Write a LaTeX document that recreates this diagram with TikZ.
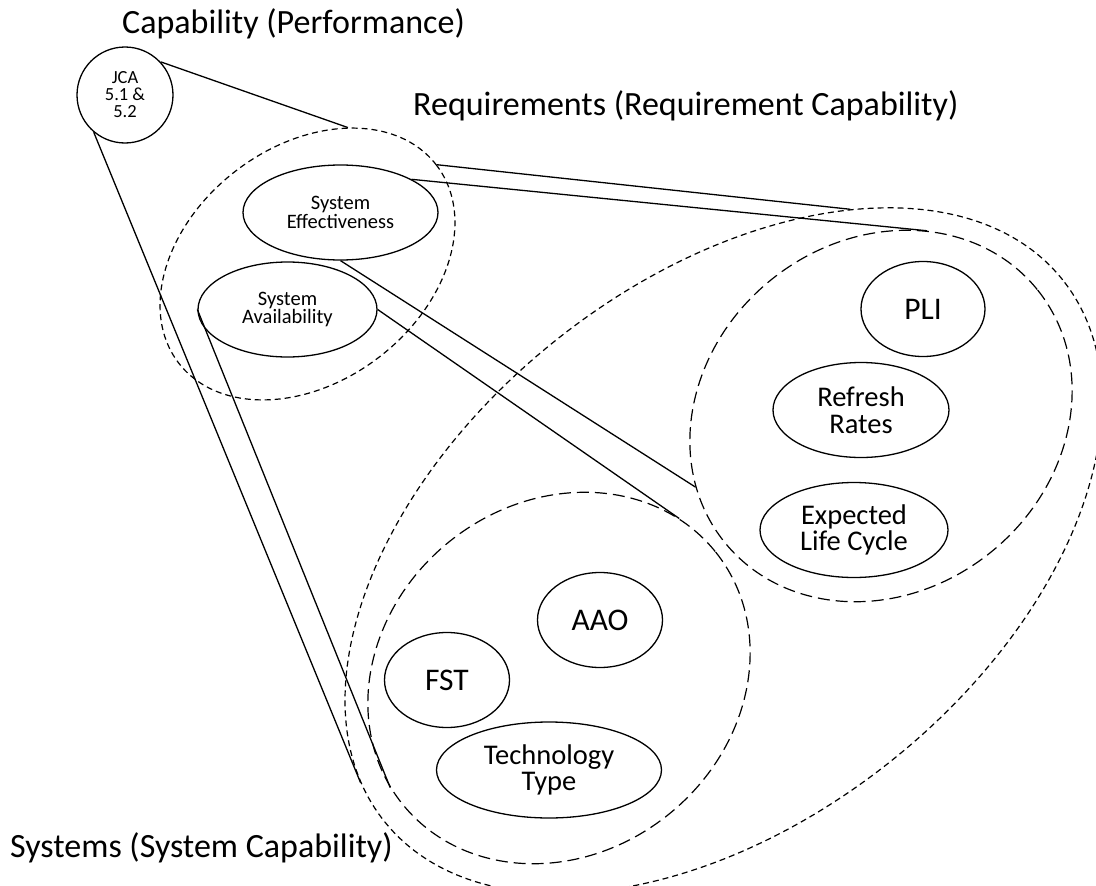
\documentclass[tikz,border=0pt]{standalone}
\usepackage{fontspec}
\setmainfont{Carlito}
\usetikzlibrary{shapes.geometric}
\begin{document}
\begin{tikzpicture}[x=1pt,y=-1pt,
  ell/.style={draw, ellipse, line width=1.3pt, inner sep=0pt, align=center},
  grp/.style={draw, ellipse, inner sep=0pt, line width=1.2pt},
  shortdsh/.style={dash pattern=on 6pt off 4pt},
  longdsh/.style={dash pattern=on 12pt off 6pt},
  conn/.style={line width=1.3pt},
  titletxt/.style={font=\fontsize{34}{40}\selectfont, inner sep=0pt},
  tiny/.style={font=\fontsize{18.5}{17}\selectfont},
  small/.style={font=\fontsize{20.5}{18.5}\selectfont},
  mid/.style={font=\fontsize{28.5}{26.5}\selectfont},
  big/.style={font=\fontsize{31.5}{32}\selectfont}
]
\fill[white] (0,0) rectangle (1096,886);
\useasboundingbox (0,0) rectangle (1096,886);

% group outlines
\node[grp, shortdsh, minimum width=868pt, minimum height=538pt, rotate=38.6] (outer) at (723.5,550.6) {};
\node[grp, shortdsh, minimum width=325pt, minimum height=235pt, rotate=37.5] (req) at (307.5,264) {};
\node[grp, longdsh, minimum width=402pt, minimum height=350pt, rotate=39] (reqin) at (881,416) {};
\node[grp, longdsh, minimum width=402pt, minimum height=350pt, rotate=39] (sysin) at (559,678) {};

% nodes
\node[ell, circle, minimum size=96pt, tiny] (jca) at (125,95) {JCA\\5.1 \&\\5.2};
\node[ell, small, minimum width=195pt, minimum height=95pt] (se) at (340.5,212.5) {System\\Effectiveness};
\node[ell, small, minimum width=179pt, minimum height=95pt] (sa) at (287.5,309.5) {System\\Availability};
\node[ell, big, minimum width=124pt, minimum height=95pt] (pli) at (923,309) {PLI};
\node[ell, mid, minimum width=176pt, minimum height=95pt] (rr) at (861,410) {Refresh\\Rates};
\node[ell, mid, minimum width=188pt, minimum height=95pt] (elc) at (854,530) {Expected\\Life Cycle};
\node[ell, big, minimum width=125pt, minimum height=95pt] (aao) at (600,620) {AAO};
\node[ell, big, minimum width=125pt, minimum height=95pt] (fst) at (447,680) {FST};
\node[ell, mid, minimum width=225pt, minimum height=96pt] (tt) at (549,770) {Technology\\Type};

% titles
\node[titletxt, anchor=base west] (t1) at (122,33) {Capability (Performance)};
\node[titletxt, anchor=base west] (t2) at (413,115) {Requirements (Requirement Capability)};
\node[titletxt, anchor=base west] (t3) at (10,857) {Systems (System Capability)};

% connectors
\draw[conn] (jca.43) -- (req.36.3);
\draw[conn] (jca.230) -- (outer.174.1);
\draw[conn] (req.0) -- (outer.31.7);
\draw[conn] (se.25) -- (reqin.37.6);
\draw[conn] (se.south) -- (reqin.162.7);
\draw[conn] (sa.east) -- (sysin.14.7);
\draw[conn] (sa.west) -- (sysin.174.1);
\end{tikzpicture}
\end{document}
